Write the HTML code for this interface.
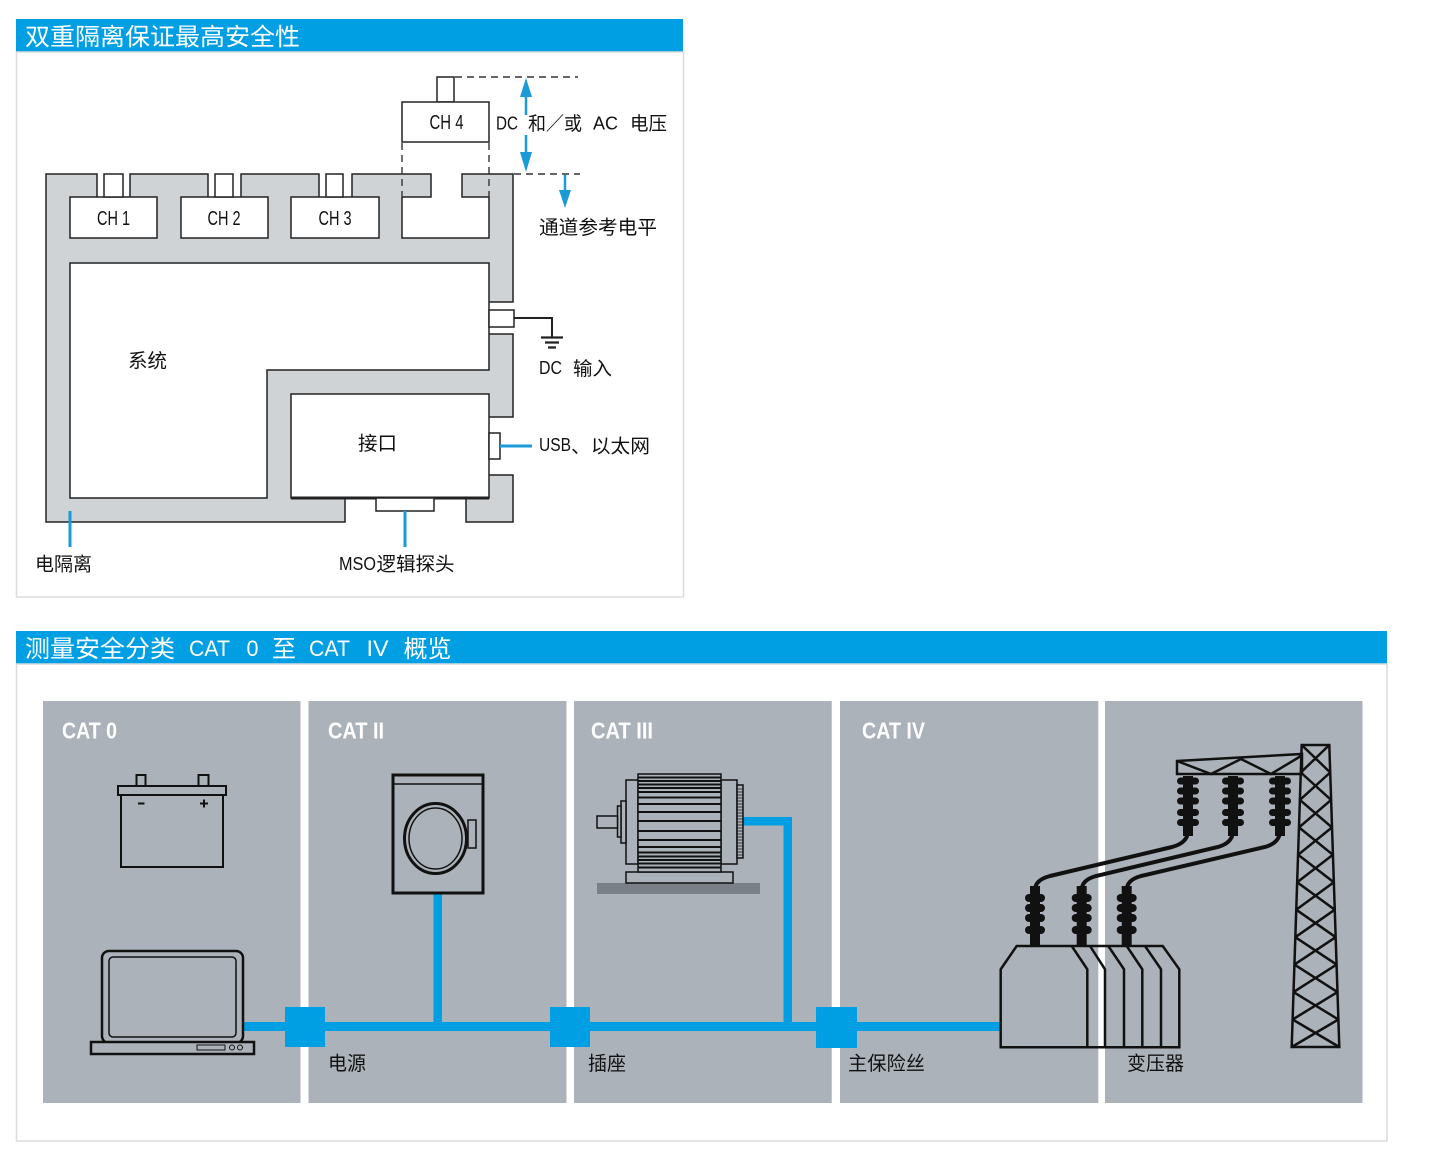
<!DOCTYPE html>
<html><head><meta charset="utf-8">
<style>
html,body{margin:0;padding:0;background:#fff;}
svg{display:block;}
text{font-family:"Liberation Sans","Noto Sans CJK SC",sans-serif;}
.n{font-family:"Liberation Sans Narrow","Liberation Sans","Noto Sans CJK SC",sans-serif;}
</style></head><body>
<svg width="1431" height="1165" viewBox="0 0 1431 1165" xmlns="http://www.w3.org/2000/svg">
<rect x="0" y="0" width="1431" height="1165" fill="#fff"/>

<!-- ================= TOP SECTION ================= -->
<rect x="16" y="19" width="667" height="33" fill="#009fe3"/>
<text x="25" y="45" font-size="24" fill="#fff" textLength="275" lengthAdjust="spacingAndGlyphs">双重隔离保证最高安全性</text>
<rect x="16.5" y="52" width="667" height="545" fill="none" stroke="#d9dbdd" stroke-width="1.5"/>

<!-- gray isolation body -->
<rect x="46" y="174" width="467" height="348" fill="#cfd3d6"/>
<!-- cutouts -->
<g fill="#fff">
<rect x="97" y="172" width="33" height="25"/>
<rect x="208" y="172" width="33" height="25"/>
<rect x="319" y="172" width="33" height="25"/>
<rect x="431" y="172" width="31" height="25"/>
<rect x="489" y="302" width="26" height="32"/>
<rect x="489" y="417" width="26" height="58"/>
<rect x="345" y="498" width="121" height="26"/>
</g>
<!-- white inner areas -->
<g fill="#fff" stroke="#222" stroke-width="1.5">
<path d="M70,263 H489 V370 H267 V498 H70 Z"/>
<rect x="291" y="394" width="198" height="104"/>
<rect x="70" y="197" width="87" height="41"/>
<rect x="181" y="197" width="87" height="41"/>
<rect x="291" y="197" width="88" height="41"/>
<rect x="104" y="174" width="19" height="23"/>
<rect x="215" y="174" width="18" height="23"/>
<rect x="326" y="174" width="17" height="23"/>
</g>
<rect x="402" y="197" width="87" height="41" fill="#fff"/>
<!-- outlines -->
<g fill="none" stroke="#222" stroke-width="1.5">
<path d="M97,197 V174 H46 V522 H345 V498"/>
<path d="M466,498 V522 H513 V475 H489"/>
<path d="M489,417 H513 V334 H489"/>
<path d="M489,302 H513 V174 H462 V197 H489"/>
<path d="M130,197 V174 H208 V197"/>
<path d="M241,197 V174 H319 V197"/>
<path d="M352,197 V174 H431 V197 H402"/>
<path d="M402,197 V238 H489 V197"/>
</g>
<path d="M291,498 H489" stroke="#222" stroke-width="3"/>

<!-- CH4 -->
<rect x="437" y="77" width="17" height="25" fill="#fff" stroke="#222" stroke-width="1.5"/>
<rect x="402" y="102" width="87" height="40" fill="#fff" stroke="#222" stroke-width="1.5"/>
<g stroke="#333" stroke-width="1.4" stroke-dasharray="7 5" fill="none">
<path d="M455,77 H578"/>
<path d="M402,143 V197"/>
<path d="M489,143 V197"/>
<path d="M514,174 H580"/>
</g>

<!-- arrows -->
<g stroke="#1b9ad8" stroke-width="2.5" fill="none">
<path d="M526,95 V115"/>
<path d="M526,135 V153"/>
<path d="M565,175 V191"/>
</g>
<g fill="#1b9ad8">
<polygon points="526,78 520,97 532,97"/>
<polygon points="520,152 532,152 526,172"/>
<polygon points="559,190 571,190 565,208"/>
</g>

<!-- DC input connector and ground -->
<rect x="489" y="310" width="25" height="17" fill="#fff" stroke="#222" stroke-width="1.5"/>
<path d="M514,318 H552 V337" fill="none" stroke="#222" stroke-width="2"/>
<path d="M541,337.5 H563 M545,342.5 H559 M548,347.5 H556" stroke="#222" stroke-width="2.2"/>

<!-- USB connector -->
<rect x="489" y="433" width="11" height="26" fill="#fff" stroke="#222" stroke-width="1.5"/>
<path d="M500,446 H532" stroke="#1b9ad8" stroke-width="3"/>

<!-- MSO connector -->
<rect x="376" y="498" width="58" height="13" fill="#fff" stroke="#222" stroke-width="1.5"/>
<path d="M70,511 V547" stroke="#1b9ad8" stroke-width="3"/>
<path d="M405,511 V547" stroke="#1b9ad8" stroke-width="3"/>

<!-- top texts -->
<g fill="#111">
<text class="n" x="97" y="225" font-size="20" textLength="33" lengthAdjust="spacingAndGlyphs">CH 1</text>
<text class="n" x="207.5" y="225" font-size="20" textLength="33" lengthAdjust="spacingAndGlyphs">CH 2</text>
<text class="n" x="318.5" y="225" font-size="20" textLength="33" lengthAdjust="spacingAndGlyphs">CH 3</text>
<text class="n" x="429.5" y="129" font-size="20" textLength="34" lengthAdjust="spacingAndGlyphs">CH 4</text>

<text x="496" y="129.5" font-size="18" textLength="22" lengthAdjust="spacingAndGlyphs">DC</text>
<text x="528" y="130" font-size="19" textLength="54" lengthAdjust="spacingAndGlyphs">和／或</text>
<text x="593" y="129.5" font-size="18" textLength="25" lengthAdjust="spacingAndGlyphs">AC</text>
<text x="630" y="130" font-size="19" textLength="37" lengthAdjust="spacingAndGlyphs">电压</text>

<text x="539" y="234" font-size="19.5" textLength="118" lengthAdjust="spacingAndGlyphs">通道参考电平</text>
<text x="128" y="367.5" font-size="19.5" textLength="39" lengthAdjust="spacingAndGlyphs">系统</text>
<text x="358" y="450" font-size="19.5" textLength="39" lengthAdjust="spacingAndGlyphs">接口</text>

<text class="n" x="539" y="374" font-size="18" textLength="23" lengthAdjust="spacingAndGlyphs">DC</text>
<text x="573" y="375" font-size="19" textLength="39" lengthAdjust="spacingAndGlyphs">输入</text>

<text class="n" x="539" y="451" font-size="18" textLength="32" lengthAdjust="spacingAndGlyphs">USB</text>
<text x="571" y="452.5" font-size="19" textLength="79" lengthAdjust="spacingAndGlyphs">、以太网</text>

<text x="35" y="570.5" font-size="19" textLength="57" lengthAdjust="spacingAndGlyphs">电隔离</text>
<text class="n" x="339" y="570" font-size="18" textLength="37" lengthAdjust="spacingAndGlyphs">MSO</text>
<text x="376.5" y="570.5" font-size="19" textLength="78" lengthAdjust="spacingAndGlyphs">逻辑探头</text>
</g>

<!-- ================= BOTTOM SECTION ================= -->
<rect x="16" y="631" width="1371" height="33" fill="#009fe3"/>
<g fill="#fff">
<text x="25" y="657" font-size="24" textLength="150" lengthAdjust="spacingAndGlyphs">测量安全分类</text>
<text x="189" y="656" font-size="22" textLength="41" lengthAdjust="spacingAndGlyphs">CAT</text>
<text x="246.5" y="656" font-size="22" textLength="12" lengthAdjust="spacingAndGlyphs">0</text>
<text x="272" y="657" font-size="24" textLength="24" lengthAdjust="spacingAndGlyphs">至</text>
<text x="309" y="656" font-size="22" textLength="41" lengthAdjust="spacingAndGlyphs">CAT</text>
<text x="366.5" y="656" font-size="22" textLength="22" lengthAdjust="spacingAndGlyphs">IV</text>
<text x="403.5" y="657" font-size="24" textLength="48" lengthAdjust="spacingAndGlyphs">概览</text>
</g>
<rect x="16.5" y="664" width="1370.5" height="477" fill="none" stroke="#d9dbdd" stroke-width="1.5"/>

<!-- panels -->
<g fill="#acb2b9">
<rect x="43" y="701" width="257.5" height="402"/>
<rect x="308.5" y="701" width="258" height="402"/>
<rect x="574" y="701" width="257.7" height="402"/>
<rect x="840" y="701" width="258.3" height="402"/>
<rect x="1105" y="701" width="257.5" height="402"/>
</g>

<!-- CAT labels -->
<g fill="#fff" font-weight="bold">
<text class="n" x="62" y="738.5" font-size="23" textLength="55" lengthAdjust="spacingAndGlyphs">CAT 0</text>
<text class="n" x="328" y="738.5" font-size="23" textLength="56" lengthAdjust="spacingAndGlyphs">CAT II</text>
<text class="n" x="591" y="738.5" font-size="23" textLength="62" lengthAdjust="spacingAndGlyphs">CAT III</text>
<text class="n" x="862" y="738.5" font-size="23" textLength="63" lengthAdjust="spacingAndGlyphs">CAT IV</text>
</g>

<!-- blue bus -->
<g fill="#009fe3">
<rect x="243" y="1022" width="758" height="9"/>
<rect x="433.5" y="893" width="8.5" height="135"/>
<rect x="743" y="817" width="49" height="8.5"/>
<rect x="783.5" y="817" width="8.5" height="210"/>
<rect x="285" y="1007" width="40" height="40"/>
<rect x="550" y="1007" width="40" height="40"/>
<rect x="816" y="1007" width="41" height="41"/>
</g>

<!-- battery -->
<g fill="none" stroke="#111" stroke-width="2">
<rect x="136.5" y="775" width="9" height="11"/>
<rect x="198.5" y="775" width="10" height="11"/>
<rect x="118" y="786" width="108" height="9"/>
<rect x="121" y="795" width="102" height="72"/>
<path d="M138,803.5 H144.5"/>
<path d="M200,803.5 H208 M204,799.5 V807.5"/>
</g>

<!-- laptop -->
<g fill="none" stroke="#111">
<rect x="102" y="951" width="141" height="92" rx="7" stroke-width="2.5"/>
<rect x="109" y="957" width="127" height="80" rx="4" stroke-width="1.5"/>
<rect x="91" y="1042" width="163" height="12" fill="#acb2b9" stroke-width="2.5"/>
<rect x="197" y="1045" width="28" height="5" stroke-width="1"/>
<circle cx="232" cy="1047.5" r="2.5" stroke-width="1"/>
<circle cx="240" cy="1047.5" r="2.5" stroke-width="1"/>
</g>

<!-- washer -->
<g fill="none" stroke="#111">
<rect x="393" y="775" width="90" height="118" stroke-width="3"/>
<path d="M393,784 H483" stroke-width="1.5"/>
<ellipse cx="435.5" cy="838.5" rx="31" ry="35" stroke-width="3"/>
<ellipse cx="435.5" cy="838.5" rx="26.5" ry="30.5" stroke-width="1.5"/>
<rect x="468" y="820" width="8" height="28" stroke-width="1.5"/>
</g>

<!-- motor -->
<rect x="597" y="883" width="163" height="11" fill="#7a8087"/>
<g fill="#acb2b9" stroke="#111" stroke-width="1.5">
<rect x="626" y="872" width="107" height="11"/>
<rect x="626" y="780" width="12" height="84"/>
<rect x="721" y="780" width="16" height="84"/>
<rect x="737" y="785" width="6" height="73"/>
<rect x="638" y="774" width="83" height="98"/>
<rect x="621" y="801" width="5" height="42"/>
<rect x="617.5" y="806" width="3.5" height="31"/>
<rect x="597" y="816" width="20.5" height="12"/>
</g>
<path d="M638,777.5H721M638,781H721M638,784.5H721M638,788H721M638,792H721M638,797.5H721M638,804H721M638,812H721M638,821H721M638,831H721M638,840H721M638,847H721M638,852.5H721M638,856.5H721M638,860H721M638,863.5H721M638,867.5H721" stroke="#111" stroke-width="2"/>
<path d="M737,789H743M737,792H743M737,795H743M737,798H743M737,801H743M737,804H743M737,807H743M737,810H743M737,813H743M737,816H743M737,819H743M737,822H743M737,825H743M737,828H743M737,831H743M737,834H743M737,837H743M737,840H743M737,843H743M737,846H743M737,849H743M737,852H743M737,855H743" stroke="#111" stroke-width="0.8"/>

<!-- transformer -->
<g fill="none" stroke="#111" stroke-width="2.5" stroke-linejoin="miter">
<path d="M1016.7,946 L1162.7,946 L1179.3,969.3 L1179.3,1047.3 L1000.7,1047.3 L1000.7,969.3 Z"/>
<path d="M1071.7,946 L1087.3,969.3 V1047.3"/>
<path d="M1090,946 L1105,969.3 V1047.3"/>
<path d="M1108.3,946 L1124,969.3 V1047.3"/>
<path d="M1126.7,946 L1142.3,969.3 V1047.3"/>
<path d="M1145,946 L1161,969.3 V1047.3"/>
</g>

<!-- cables -->
<g fill="none" stroke="#111" stroke-width="4">
<path d="M1188,832 Q1187,843 1172,847 L1050,876 Q1035,880 1035,890"/>
<path d="M1233,832 Q1232,843 1218,847 L1096,876 Q1081.7,880 1081.7,890"/>
<path d="M1280,832 Q1279,843 1265,847 L1141,876 Q1126.7,880 1126.7,890"/>
</g>

<!-- lower bushings -->
<g fill="#111">
<rect x="1030" y="886" width="10" height="60"/>
<rect x="1076.7" y="886" width="10" height="60"/>
<rect x="1121.7" y="886" width="10" height="60"/>
<rect x="1025" y="894" width="20" height="8" rx="4"/>
<rect x="1025" y="904" width="20" height="8" rx="4"/>
<rect x="1025" y="914" width="20" height="8" rx="4"/>
<rect x="1025" y="926" width="20" height="8" rx="4"/>
<rect x="1071.7" y="894" width="20" height="8" rx="4"/>
<rect x="1071.7" y="904" width="20" height="8" rx="4"/>
<rect x="1071.7" y="914" width="20" height="8" rx="4"/>
<rect x="1071.7" y="926" width="20" height="8" rx="4"/>
<rect x="1116.7" y="894" width="20" height="8" rx="4"/>
<rect x="1116.7" y="904" width="20" height="8" rx="4"/>
<rect x="1116.7" y="914" width="20" height="8" rx="4"/>
<rect x="1116.7" y="926" width="20" height="8" rx="4"/>
</g>

<!-- upper insulators -->
<g fill="#111">
<rect x="1183" y="776" width="10" height="60"/>
<rect x="1228" y="776" width="10" height="60"/>
<rect x="1275" y="776" width="10" height="60"/>
<rect x="1177" y="777.5" width="22" height="7" rx="3.5"/>
<rect x="1177" y="787.5" width="22" height="7" rx="3.5"/>
<rect x="1177" y="797.5" width="22" height="7" rx="3.5"/>
<rect x="1177" y="809" width="22" height="7" rx="3.5"/>
<rect x="1177" y="819" width="22" height="7" rx="3.5"/>
<rect x="1222" y="777.5" width="22" height="7" rx="3.5"/>
<rect x="1222" y="787.5" width="22" height="7" rx="3.5"/>
<rect x="1222" y="797.5" width="22" height="7" rx="3.5"/>
<rect x="1222" y="809" width="22" height="7" rx="3.5"/>
<rect x="1222" y="819" width="22" height="7" rx="3.5"/>
<rect x="1269" y="777.5" width="22" height="7" rx="3.5"/>
<rect x="1269" y="787.5" width="22" height="7" rx="3.5"/>
<rect x="1269" y="797.5" width="22" height="7" rx="3.5"/>
<rect x="1269" y="809" width="22" height="7" rx="3.5"/>
<rect x="1269" y="819" width="22" height="7" rx="3.5"/>
</g>

<!-- crossarm -->
<g fill="none" stroke="#111" stroke-width="2.5">
<path d="M1177,761 L1302,754 L1302,774 L1177,774 Z"/>
<path d="M1177,761 L1211,774 L1241,759 L1271,774 L1301,756"/>
</g>

<!-- tower -->
<g fill="none" stroke="#111" stroke-width="2.5">
<path d="M1301.7,745 L1329.3,745 L1339.3,1047 L1291.7,1047 Z"/>
<path d="M1301.7,745L1330.2,772.5M1329.3,745L1300.8,772.5
M1300.8,772.5L1331.1,799.9M1330.2,772.5L1299.9,799.9
M1299.9,799.9L1332,827.4M1331.1,799.9L1299,827.4
M1299,827.4L1332.9,854.8M1332,827.4L1298.1,854.8
M1298.1,854.8L1333.8,882.3M1332.9,854.8L1297.2,882.3
M1297.2,882.3L1334.8,909.7M1333.8,882.3L1296.2,909.7
M1296.2,909.7L1335.7,937.2M1334.8,909.7L1295.3,937.2
M1295.3,937.2L1336.6,964.6M1335.7,937.2L1294.4,964.6
M1294.4,964.6L1337.5,992.1M1336.6,964.6L1293.5,992.1
M1293.5,992.1L1338.4,1019.5M1337.5,992.1L1292.6,1019.5
M1292.6,1019.5L1339.3,1047M1338.4,1019.5L1291.7,1047"/>
</g>

<!-- bottom labels -->
<g fill="#111">
<text x="328" y="1070" font-size="19.5" textLength="38" lengthAdjust="spacingAndGlyphs">电源</text>
<text x="588" y="1070" font-size="19.5" textLength="38" lengthAdjust="spacingAndGlyphs">插座</text>
<text x="848" y="1070" font-size="19.5" textLength="77" lengthAdjust="spacingAndGlyphs">主保险丝</text>
<text x="1127" y="1070" font-size="19.5" textLength="57" lengthAdjust="spacingAndGlyphs">变压器</text>
</g>
</svg>
</body></html>
